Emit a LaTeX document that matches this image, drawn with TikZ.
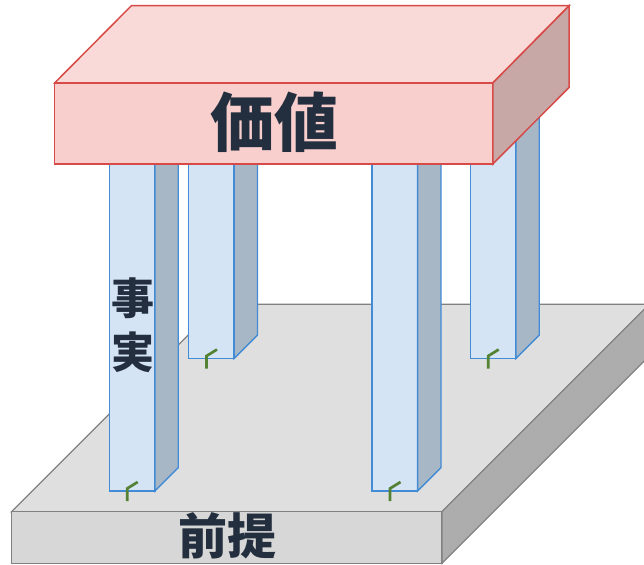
\documentclass[tikz,border=0pt]{standalone}
\usepackage{fontspec}
\newfontfamily\cjk{Noto Sans CJK JP}
\definecolor{slabline}{RGB}{214,75,72}
\definecolor{slabfront}{RGB}{248,207,205}
\definecolor{slabtop}{RGB}{249,218,216}
\definecolor{slabside}{RGB}{199,168,166}
\definecolor{pilfront}{RGB}{212,228,244}
\definecolor{pilside}{RGB}{168,183,198}
\definecolor{pilline}{RGB}{66,139,213}
\definecolor{basetop}{RGB}{223,223,223}
\definecolor{basefront}{RGB}{215,215,215}
\definecolor{baseside}{RGB}{173,173,173}
\definecolor{baseedge}{RGB}{128,128,128}
\definecolor{txt}{RGB}{35,47,62}
\definecolor{sprout}{RGB}{84,130,53}
\begin{document}
\begin{tikzpicture}[x=1pt,y=-1pt,
  slabface/.style={draw=slabline,line width=1.5pt,line join=miter},
  pilface/.style={draw=pilline,line width=1.4pt,line join=miter},
  baseface/.style={draw=baseedge,line width=1.2pt,line join=miter},
  sproutline/.style={draw=sprout,line width=2.7pt},
  lbl/.style={text=txt,inner sep=0pt,align=center}]
\useasboundingbox (0,0) rectangle (644,564);
\clip (0,0) rectangle (644,564);
% base
\filldraw[baseface,fill=basetop] (11.5,511.7) -- (218.9,304.3) -- (649.3,304.3) -- (441.9,511.7) -- cycle;
\filldraw[baseface,fill=basefront] (11.5,511.7) rectangle (441.9,563.3);
\filldraw[baseface,fill=baseside] (441.9,511.7) -- (649.3,304.3) -- (649.3,355.9) -- (441.9,563.3) -- cycle;
% pillars
\foreach \L/\B in {188.5/358.5, 470.2/358.5, 109.2/491, 372/491}{
  \filldraw[pilface,fill=pilfront] (\L,100) rectangle (\L+45.6,\B);
  \filldraw[pilface,fill=pilside] (\L+45.6,\B) -- (\L+69,\B-23.4) -- (\L+69,76.6) -- (\L+45.6,100) -- cycle;
  \draw[sproutline] (\L+18,\B+10) -- (\L+18,\B-2.5) -- (\L+28.5,\B-9);
}
% slab
\filldraw[slabface,fill=slabtop] (54.6,83) -- (131.4,5.7) -- (569.2,5.7) -- (492.8,83) -- cycle;
\filldraw[slabface,fill=slabfront] (54.6,83) rectangle (492.8,164);
\filldraw[slabface,fill=slabside] (492.8,83) -- (569.2,5.7) -- (569.2,87.3) -- (492.8,164) -- cycle;
% labels
\node[lbl,font=\cjk\bfseries\fontsize{64}{64}\selectfont] (value) at (274,122) {価値};
\node[lbl,font=\cjk\bfseries\fontsize{49}{49}\selectfont] (premise) at (227,535.5) {前提};
\node[lbl,font=\cjk\bfseries\fontsize{43}{54.5}\selectfont] (fact) at (132.5,325) {事\\実};
\end{tikzpicture}
\end{document}
